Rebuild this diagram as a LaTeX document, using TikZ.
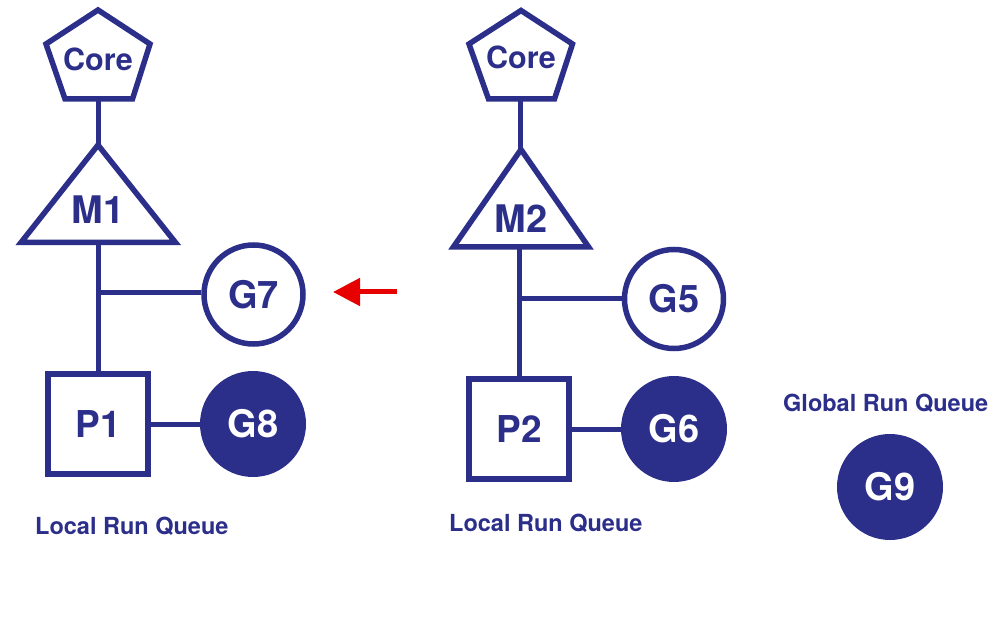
\documentclass[tikz,border=0pt]{standalone}
\usepackage{fontspec}
\setmainfont{TeX Gyre Heros}
\usetikzlibrary{arrows.meta}
\definecolor{navy}{RGB}{44,47,138}
\definecolor{arrred}{RGB}{230,0,0}
\begin{document}
\begin{tikzpicture}[x=1pt,y=-1pt,
  shapeline/.style={draw=navy,line width=5.5pt,line join=miter},
  conn/.style={draw=navy,line width=5pt},
  bigtxt/.style={text=navy,font=\bfseries\fontsize{38}{40}\selectfont,inner sep=0pt},
  coretxt/.style={text=navy,font=\bfseries\fontsize{30.5}{32}\selectfont,inner sep=0pt},
  qtxt/.style={text=navy,font=\bfseries\fontsize{23.5}{25}\selectfont,inner sep=0pt,anchor=base west},
  gopen/.style={circle,draw=navy,line width=5.5pt,fill=white,minimum size=99pt,inner sep=0pt,text=navy,font=\bfseries\fontsize{38}{40}\selectfont},
  gfull/.style={circle,fill=navy,draw=none,minimum size=106pt,inner sep=0pt,text=white,font=\bfseries\fontsize{38}{40}\selectfont},
  pbox/.style={rectangle,draw=navy,line width=5.5pt,minimum size=100pt,inner sep=0pt,text=navy,font=\bfseries\fontsize{37}{40}\selectfont}
]
\useasboundingbox (0,0) rectangle (996,620);
\fill[white] (0,0) rectangle (996,620);

% ---------- left column ----------
\draw[shapeline] (98,10) -- (150,44) -- (132.5,99) -- (65,99) -- (46,44) -- cycle;
\node[coretxt] (core1) at (98,59) {Core};
\coordinate (core1b) at (98,99);
\draw[shapeline] (98,145) -- (175.5,242.5) -- (21,242.5) -- cycle;
\node[bigtxt] (m1) at (98,210) {M1};
\coordinate (m1t) at (98,145);
\coordinate (m1b) at (98,242.5);
\node[pbox] (p1) at (98,424) {P1};
\node[gopen] (g7) at (253.5,294.5) {G7};
\node[gfull] (g8) at (253,424) {G8};
\coordinate (j1) at (98,293);
\draw[conn] (core1b) -- (m1t);
\draw[conn] (m1b) -- (p1.north);
\draw[conn] (j1) -- (j1 -| g7.west);
\draw[conn] (p1.east) -- (g8.west);
\node[qtxt] (lrq1) at (35,534) {Local Run Queue};

% ---------- red arrow ----------
\coordinate (arrS) at (397,292);
\coordinate (arrE) at (333,292);
\draw[draw=arrred,line width=5pt,-{Triangle[length=27pt,width=27pt]}] (arrS) -- (arrE);

% ---------- right column ----------
\draw[shapeline] (521,10.5) -- (572.5,44) -- (554.5,99) -- (488.5,99) -- (469,44) -- cycle;
\node[coretxt] (core2) at (521,57) {Core};
\coordinate (core2b) at (520,99);
\draw[shapeline] (521,149.5) -- (588.5,246.8) -- (453.5,246.8) -- cycle;
\node[bigtxt] (m2) at (521,219) {M2};
\coordinate (m2t) at (520,149.5);
\coordinate (m2b) at (519,246.8);
\node[pbox] (p2) at (519,429) {P2};
\node[gopen] (g5) at (674,299) {G5};
\node[gfull] (g6) at (674,429) {G6};
\coordinate (j2) at (519,299);
\draw[conn] (core2b) -- (m2t);
\draw[conn] (m2b) -- (p2.north);
\draw[conn] (j2) -- (g5.west);
\draw[conn] (p2.east) -- (g6.west);
\node[qtxt] (lrq2) at (449,531) {Local Run Queue};

% ---------- global queue ----------
\node[qtxt] (grq) at (783,411) {Global Run Queue};
\node[gfull] (g9) at (890,487) {G9};
\end{tikzpicture}
\end{document}
